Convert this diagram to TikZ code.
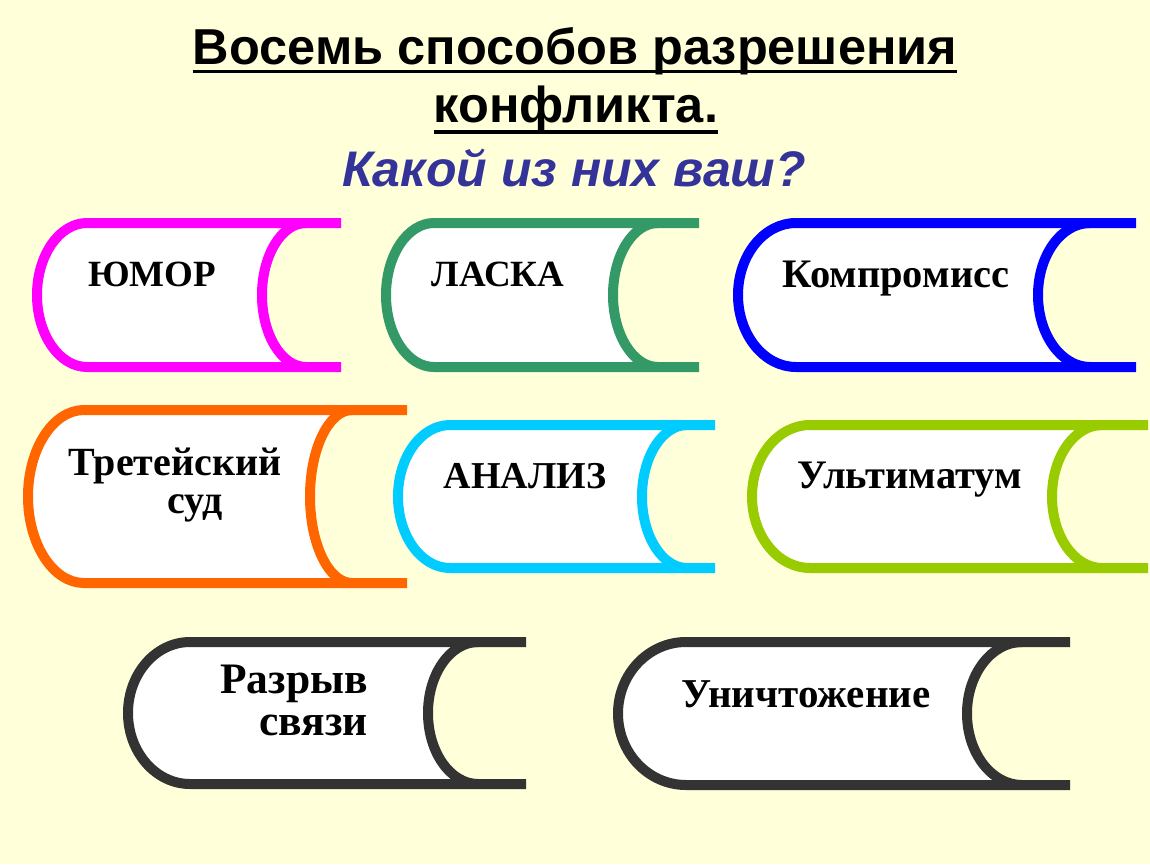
\documentclass[tikz,border=0pt]{standalone}
\usepackage{fontspec}
\setmainfont{Liberation Serif}
\newfontfamily\titlefont{Liberation Sans}
\definecolor{bg}{HTML}{FFFFD9}
\definecolor{cMag}{HTML}{FF00FF}
\definecolor{cGreen}{HTML}{339966}
\definecolor{cBlue}{HTML}{0000FF}
\definecolor{cOrange}{HTML}{FF6600}
\definecolor{cCyan}{HTML}{00CCFF}
\definecolor{cLime}{HTML}{99CC00}
\definecolor{cDark}{HTML}{333333}
\definecolor{cTitle}{HTML}{333399}
\tikzset{
  bookline/.style={line width=10pt, line join=round},
  boxtext/.style={anchor=base, inner sep=0pt, font=\bfseries\fontsize{#1}{#1}\selectfont},
  titletext/.style={anchor=base, inner sep=0pt, font=\titlefont\bfseries\fontsize{50.5}{56}\selectfont},
}
% #1 colour, #2 left, #3 top, #4 right, #5 bottom, #6 left radius, #7 inner left, #8 inner radius
\newcommand\bookshape[8]{%
 \pgfmathsetmacro\bL{#2+5}%
 \pgfmathsetmacro\bT{#3+5}%
 \pgfmathsetmacro\bR{#4}%
 \pgfmathsetmacro\bB{#5-5}%
 \pgfmathsetmacro\bM{(\bT+\bB)/2}%
 \pgfmathsetmacro\bK{0.552*(\bB-\bT)/2}%
 \pgfmathsetmacro\bLa{\bL+#6}%
 \pgfmathsetmacro\bLc{\bL+0.448*#6}%
 \pgfmathsetmacro\bI{#7+5}%
 \pgfmathsetmacro\bIa{\bI+#8}%
 \pgfmathsetmacro\bIc{\bI+0.448*#8}%
 \fill[white] (\bIa,\bT) -- (\bLa,\bT) .. controls (\bLc,\bT) and (\bL,\bM-\bK) .. (\bL,\bM)
   .. controls (\bL,\bM+\bK) and (\bLc,\bB) .. (\bLa,\bB) -- (\bIa,\bB)
   .. controls (\bIc,\bB) and (\bI,\bM+\bK) .. (\bI,\bM)
   .. controls (\bI,\bM-\bK) and (\bIc,\bT) .. (\bIa,\bT) -- cycle;
 \draw[#1, bookline] (\bR,\bT) -- (\bLa,\bT) .. controls (\bLc,\bT) and (\bL,\bM-\bK) .. (\bL,\bM)
   .. controls (\bL,\bM+\bK) and (\bLc,\bB) .. (\bLa,\bB) -- (\bR,\bB);
 \draw[#1, bookline] (\bIa,\bT) .. controls (\bIc,\bT) and (\bI,\bM-\bK) .. (\bI,\bM)
   .. controls (\bI,\bM+\bK) and (\bIc,\bB) .. (\bIa,\bB);
}
\begin{document}
\begin{tikzpicture}[x=1pt, y=-1pt]
\fill[bg] (0,0) rectangle (1150,864);
\useasboundingbox (0,0) rectangle (1150,864);

% title
\node[titletext] (t1) at (575,65) {Восемь способов разрешения};
\node[titletext] (t2) at (576,123) {конфликта.};
\node[titletext, font=\titlefont\bfseries\itshape\fontsize{50}{56}\selectfont, text=cTitle] (t3) at (574,186) {Какой из них ваш?};
\draw[line width=3.5pt] ([yshift=-6.5pt]t1.base west) -- ([yshift=-6.5pt]t1.base east);
\draw[line width=4pt] ([yshift=-8.5pt]t2.base west) -- ([yshift=-8.5pt]t2.base east);

% shapes
\bookshape{cMag}{32}{218}{341}{372}{50}{257}{44}
\bookshape{cGreen}{381}{218}{699}{372}{48}{608}{45}
\bookshape{cBlue}{733}{218}{1136}{372}{58}{1033}{52}
\bookshape{cOrange}{23}{405}{407}{588}{56}{305}{42}
\bookshape{cCyan}{393}{420}{715}{573}{52}{637}{45}
\bookshape{cLime}{747}{420}{1148}{573}{58}{1047}{50}
\bookshape{cDark}{123}{637}{526}{789}{62}{423}{50}
\bookshape{cDark}{613}{637}{1070}{790}{68}{962}{55}

% labels
\node[boxtext=37] (b1) at (152,286) {ЮМОР};
\node[boxtext=37] (b2) at (498,286) {ЛАСКА};
\node[boxtext=40.5] (b3) at (896,287) {Компромисс};
\node[boxtext=40] (b4a) at (175,475) {Третейский};
\node[boxtext=40] (b4b) at (195,513) {суд};
\node[boxtext=38] (b5) at (525,488) {АНАЛИЗ};
\node[boxtext=40.5] (b6) at (910,488) {Ультиматум};
\node[boxtext=43.5, anchor=base east] (b7a) at (368,693) {Разрыв};
\node[boxtext=43.5, anchor=base east] (b7b) at (368,735) {связи};
\node[boxtext=41] (b8) at (806,707) {Уничтожение};
\end{tikzpicture}
\end{document}
